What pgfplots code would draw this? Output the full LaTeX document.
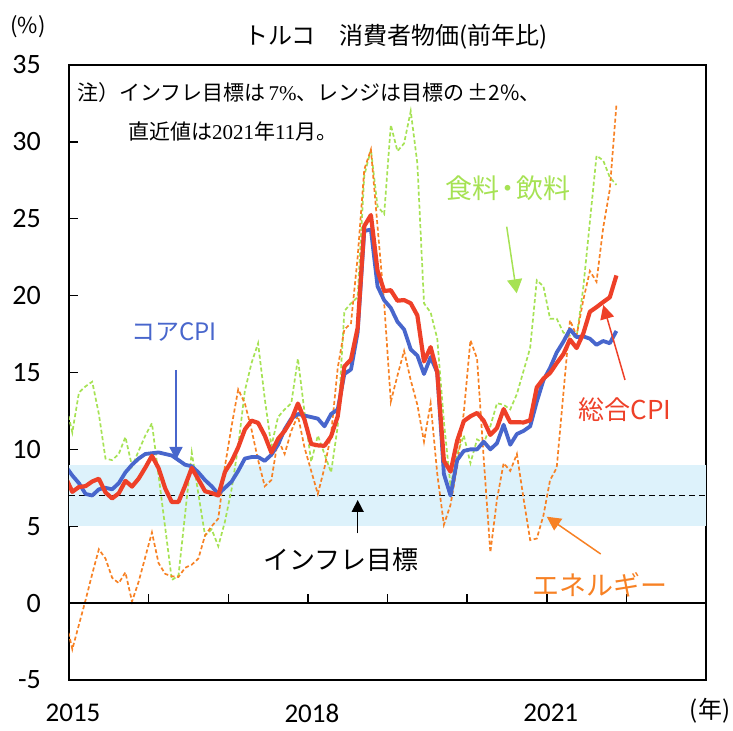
\documentclass[border=0pt]{standalone}
\usepackage{fontspec}
\setmainfont{Carlito}
\newfontfamily\cjk{Noto Sans CJK JP}
\newfontfamily\tms{Liberation Serif}
\usepackage{pgfplots}
\usepackage{pgfplotstable}
\pgfplotsset{compat=1.18}
\usetikzlibrary{arrows.meta}
\definecolor{cblue}{RGB}{72,102,204}
\definecolor{cred}{RGB}{238,64,40}
\definecolor{cgreen}{RGB}{166,226,84}
\definecolor{corange}{RGB}{247,129,36}
\definecolor{band}{RGB}{221,242,251}
\pgfplotstableread{
x cpi core food energy
-0.5 8.17 8.9 13.0 -1.1
0.5 7.24 8.3 11.1 -3.0
1.5 7.55 7.8 13.7 -1.4
2.5 7.61 7.1 14.1 0.2
3.5 7.91 7.0 14.4 1.9
4.5 8.09 7.4 12.3 3.5
5.5 7.20 7.5 9.4 2.9
6.5 6.81 7.4 9.3 1.65
7.5 7.14 7.8 9.7 1.3
8.5 7.95 8.5 10.8 2.0
9.5 7.58 9.0 8.9 0.1
10.5 8.10 9.4 9.9 1.4
11.5 8.81 9.7 10.9 3.0
12.5 9.58 9.75 11.7 4.6
13.5 8.78 9.8 8.3 2.6
14.5 7.46 9.7 4.9 1.9
15.5 6.57 9.6 1.5 1.75
16.5 6.58 9.3 1.8 1.7
17.5 7.64 9.0 5.8 2.3
18.5 8.79 8.9 9.8 2.5
19.5 8.05 8.5 7.1 2.9
20.5 7.28 8.0 4.4 4.4
21.5 7.16 7.6 4.8 5.0
22.5 7.00 7.1 3.7 5.5
23.5 8.53 7.5 5.3 8.9
24.5 9.22 7.9 7.4 11.5
25.5 10.13 8.6 10.2 13.9
26.5 11.29 9.4 13.8 13.0
27.5 11.87 9.5 15.6 11.3
28.5 11.72 9.5 16.9 9.3
29.5 10.90 9.25 13.3 7.6
30.5 9.79 9.65 10.2 8.0
31.5 10.68 10.3 12.1 10.65
32.5 11.20 11.3 12.6 9.7
33.5 11.90 12.0 13.0 11.2
34.5 12.98 12.3 15.9 12.2
35.5 11.92 12.2 12.4 10.1
36.5 10.35 12.1 9.2 8.6
37.5 10.26 12.0 10.9 7.1
38.5 10.23 11.5 9.7 8.8
39.5 10.85 12.3 8.5 11.0
40.5 12.15 12.6 11.5 15.3
41.5 15.39 14.9 19.0 17.8
42.5 15.85 15.2 19.5 18.2
43.5 17.90 17.6 19.9 22.5
44.5 24.52 24.2 27.8 28.2
45.5 25.24 24.3 29.5 29.5
46.5 21.62 20.6 25.8 24.5
47.5 20.30 19.7 25.3 19.5
48.5 20.35 19.2 31.1 13.1
49.5 19.67 18.3 29.4 14.8
50.5 19.71 17.8 29.9 16.4
51.5 19.50 16.5 32.0 14.5
52.5 18.71 16.1 28.6 12.9
53.5 15.72 14.9 19.5 10.5
54.5 16.65 16.0 18.9 13.0
55.5 15.01 15.0 17.2 8.4
56.5 9.26 8.4 11.8 5.1
57.5 8.55 7.0 7.6 6.4
58.5 10.56 9.3 9.7 8.9
59.5 11.84 9.9 10.9 12.4
60.5 12.15 10.0 9.1 17.1
61.5 12.37 10.0 10.65 15.9
62.5 11.86 10.5 10.4 9.4
63.5 10.94 10.0 11.5 3.3
64.5 11.39 10.4 13.0 6.75
65.5 12.62 11.6 12.9 9.1
66.5 11.76 10.3 12.6 8.6
67.5 11.77 11.0 13.6 9.7
68.5 11.75 11.2 15.1 6.8
69.5 11.89 11.5 16.6 4.1
70.5 14.03 13.1 21.0 4.2
71.5 14.60 14.5 20.6 5.7
72.5 14.97 15.3 18.5 8.0
73.5 15.61 16.3 18.5 8.8
74.5 16.19 17.0 17.6 13.6
75.5 17.14 17.8 17.4 18.4
76.5 16.59 17.3 17.3 17.4
77.5 17.53 17.35 20.5 19.7
78.5 18.95 17.2 24.8 21.6
79.5 19.25 16.8 29.1 20.9
80.5 19.58 17.05 28.8 24.4
81.5 19.89 16.9 27.7 26.9
82.5 21.31 17.7 27.2 32.4
}\data
\begin{document}
\begin{tikzpicture}[x=1bp,y=1bp]
\begin{axis}[
  scale only axis, width=637bp, height=615bp,
  at={(0,0)}, anchor=south west,
  xmin=0, xmax=96, ymin=-5, ymax=35,
  axis line style={line width=1.5bp},
  xtick={0,36,72}, xticklabels={2015,2018,2021},
  xtick style={draw=none},
  xticklabel style={font=\fontsize{27bp}{29bp}\selectfont, anchor=north, inner sep=0pt, yshift=-24bp, xshift=4bp},
  ytick={-5,0,...,35}, yticklabels={-5,0,5,10,15,20,25,30,35},
  ytick pos=left, tick align=inside, major tick length=9bp,
  ytick style={line width=1.5bp, black},
  yticklabel style={font=\fontsize{28bp}{30bp}\selectfont, anchor=east, inner sep=0pt, xshift=-28bp},
]
\fill[band] (axis cs:0,5) rectangle (axis cs:96,9);
\addplot[black, line width=1.2bp, dash pattern=on 6bp off 4bp] coordinates {(0,7) (96,7)};
\addplot[cgreen, line width=1.7bp, dash pattern=on 4bp off 2.5bp] table[x=x,y=food] {\data};
\addplot[corange, line width=1.7bp, dash pattern=on 4bp off 2.5bp] table[x=x,y=energy] {\data};
\addplot[cblue, line width=3.8bp, line join=round] table[x=x,y=core] {\data};
\addplot[cred, line width=4.2bp, line join=round] table[x=x,y=cpi] {\data};
\end{axis}
\begin{axis}[
  scale only axis, width=637bp, height=615bp,
  at={(0,0)}, anchor=south west,
  xmin=0, xmax=96, ymin=-5, ymax=35,
  axis x line=middle, axis y line=none,
  axis line style={-, line width=1.3bp},
  xtick={12,24,...,84}, xticklabels={},
  tick align=inside, major tick length=9bp,
  xtick style={line width=1.5bp, black},
]
\end{axis}
\node[font={\cjk\fontsize{24bp}{26bp}\selectfont}] at (327,643) {トルコ　消費者物価(前年比)};
\node[font={\cjk\fontsize{22bp}{26bp}\selectfont}] at (-41,653) {(\%)};
\node[font={\cjk\fontsize{24bp}{26bp}\selectfont}] at (641,-31) {(年)};
\node[anchor=base west, inner sep=0pt, font={\cjk\fontsize{21bp}{24bp}\selectfont}] at (8,579) {注）インフレ目標は\hspace{3bp}{\tms 7\%}、レンジは目標の\hspace{3bp}±2\%、};
\node[anchor=base west, inner sep=0pt, font={\cjk\fontsize{21bp}{24bp}\selectfont}] at (59,540) {直近値は{\tms 2021}年{\tms 11}月。};
\node[text=cblue, font={\cjk\fontsize{24bp}{26bp}\selectfont}] at (105,348) {コアCPI};
\node[text=cgreen, font={\cjk\fontsize{27bp}{30bp}\selectfont}] at (438.5,492) {食料\hspace{-5bp}・\hspace{-5bp}飲料};
\node[text=cred, font={\cjk\fontsize{26bp}{30bp}\selectfont}] at (556,270) {総合CPI};
\node[text=black, font={\cjk\fontsize{26bp}{30bp}\selectfont}] at (272,120) {インフレ目標};
\node[text=corange, font={\cjk\fontsize{27bp}{30bp}\selectfont}] at (531,95) {エネルギー};
\draw[cblue, line width=1.3bp, -{Triangle[length=13bp,width=13bp]}] (107,310) -- (107,220);
\draw[cgreen, line width=1.5bp, -{Triangle[length=14bp,width=15bp]}] (437.7,453.3) -- (447.7,386.7);
\draw[cred, line width=1.5bp, -{Triangle[length=14bp,width=14bp]}] (556,300) -- (534.3,375);
\draw[black, line width=1.5bp, -{Triangle[length=12bp,width=12bp]}] (288.7,146.7) -- (288.7,180);
\draw[corange, line width=1.5bp, -{Triangle[length=14bp,width=14bp]}] (531.7,126) -- (477.7,163.3);
\pgfresetboundingbox
\path (-69,-51) rectangle (664,680);
\end{tikzpicture}
\end{document}
